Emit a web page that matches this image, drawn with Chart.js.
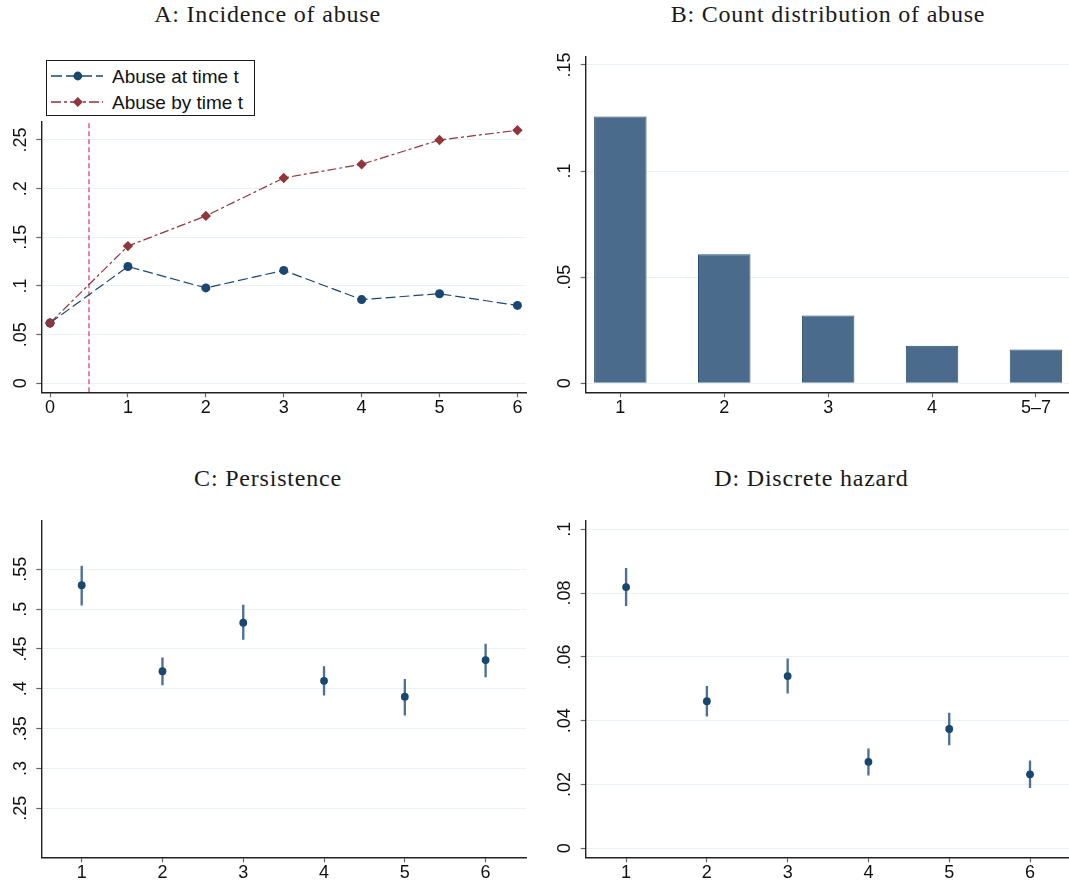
<!DOCTYPE html>
<html><head><meta charset="utf-8">
<script src="https://cdn.jsdelivr.net/npm/chart.js@4.4.1/dist/chart.umd.min.js"></script>
<style>
html,body{margin:0;padding:0;overflow:hidden;background:#fff}
body{width:1069px;height:884px;position:relative}
canvas{position:absolute}
.title{position:absolute;width:600px;text-align:center;font-family:"Liberation Serif",serif;font-size:24px;line-height:24px;letter-spacing:0.8px;color:#1a1a1a;white-space:nowrap}
.leg{position:absolute;left:46px;top:60px;width:209px;height:56px;border:1px solid #1a1a1a;box-sizing:border-box;background:#fff}
.legtxt{position:absolute;font-family:"Liberation Sans",Arial,sans-serif;font-size:19px;line-height:19px;color:#111;white-space:nowrap}
svg{position:absolute;overflow:visible}
</style></head><body>
<canvas id="cA" width="540" height="380" style="left:0;top:40px;width:540px;height:380px"></canvas>
<canvas id="cB" width="540" height="380" style="left:545px;top:40px;width:540px;height:380px"></canvas>
<canvas id="cC" width="540" height="384" style="left:0;top:500px;width:540px;height:384px"></canvas>
<canvas id="cD" width="540" height="384" style="left:545px;top:500px;width:540px;height:384px"></canvas>

<div class="title" style="left:-32.5px;top:1.6px">A: Incidence of abuse</div>
<div class="title" style="left:528px;top:1.6px">B: Count distribution of abuse</div>
<div class="title" style="left:-32px;top:465.6px">C: Persistence</div>
<div class="title" style="left:511.5px;top:465.6px">D: Discrete hazard</div>

<div class="leg"></div>
<svg style="left:51px;top:66px" width="54" height="20">
  <line x1="0" y1="10" x2="52" y2="10" stroke="#1a476f" stroke-width="1.3" stroke-dasharray="11 4"/>
  <circle cx="26.8" cy="10" r="4.4" fill="#1a476f"/>
</svg>
<svg style="left:51px;top:91.7px" width="54" height="20">
  <line x1="0" y1="10" x2="52" y2="10" stroke="#90353b" stroke-width="1.3" stroke-dasharray="10 3 3 3"/>
  <polygon points="26.8,5 31.8,10 26.8,15 21.8,10" fill="#90353b"/>
</svg>
<div class="legtxt" style="left:112px;top:67.2px">Abuse at time t</div>
<div class="legtxt" style="left:112px;top:92.9px">Abuse by time t</div>

<script>
// ---------- data ----------
const incidencePeriods = [0, 1, 2, 3, 4, 5, 6];
const incidenceXLabels = ['0', '1', '2', '3', '4', '5', '6'];
const abuseAtTime = [0.062, 0.120, 0.098, 0.116, 0.086, 0.092, 0.080];
const abuseByTime = [0.062, 0.141, 0.172, 0.211, 0.225, 0.250, 0.260];
const cutoffPeriod = 0.5;
const incidenceYTicks = [0, 0.05, 0.10, 0.15, 0.20, 0.25];
const incidenceYLabels = ['0', '.05', '.1', '.15', '.2', '.25'];

const countPositions = [1, 2, 3, 4, 5];
const countCategories = ['1', '2', '3', '4', '5\u20137'];
const countShares = [0.1257, 0.0608, 0.0319, 0.0177, 0.0159];
const countYTicks = [0, 0.05, 0.10, 0.15];
const countYLabels = ['0', '.05', '.1', '.15'];

const periods = [1, 2, 3, 4, 5, 6];
const periodLabels = ['1', '2', '3', '4', '5', '6'];
const persistence = [0.530, 0.422, 0.483, 0.410, 0.390, 0.436];
const persistenceLow = [0.505, 0.405, 0.462, 0.392, 0.367, 0.415];
const persistenceHigh = [0.554, 0.439, 0.505, 0.428, 0.412, 0.456];
const persistYTicks = [0.25, 0.30, 0.35, 0.40, 0.45, 0.50, 0.55];
const persistYLabels = ['.25', '.3', '.35', '.4', '.45', '.5', '.55'];

const hazard = [0.0819, 0.0461, 0.0540, 0.0271, 0.0374, 0.0232];
const hazardLow = [0.0761, 0.0414, 0.0486, 0.0229, 0.0324, 0.0190];
const hazardHigh = [0.0878, 0.0508, 0.0594, 0.0312, 0.0424, 0.0274];
const hazardYTicks = [0, 0.02, 0.04, 0.06, 0.08, 0.10];
const hazardYLabels = ['0', '.02', '.04', '.06', '.08', '.1'];

// ---------- styles ----------
const BLUE = '#1a476f', RED = '#90353b', CUT = '#d8365f';
const BARFILL = '#4a6b8c', BAREDGE = '#2a4d73', ERR = '#4d7195';
const AXIS = '#222', TICK = '#666', GRID = '#eaf2f3';
Chart.defaults.font.family = '"Liberation Sans", Arial, sans-serif';
Chart.defaults.color = '#111';

function xScale(min, max, ticks, labels, h) {
  return {
    type: 'linear', min, max, offset: false,
    afterBuildTicks: s => { s.ticks = ticks.map(v => ({ value: v })); },
    afterFit: s => { s.height = h; },
    grid: { offset: false, drawOnChartArea: false, drawTicks: true, tickLength: 5, tickColor: TICK, tickWidth: 1.2 },
    border: { display: true, color: AXIS, width: 1.4 },
    ticks: { padding: 0, font: { size: 18 }, color: '#111', minRotation: 0, maxRotation: 0, autoSkip: false,
             callback: (v, i) => labels[i] }
  };
}
function yScale(min, max, ticks, labels, w) {
  return {
    type: 'linear', min, max, offset: false, beginAtZero: false,
    afterBuildTicks: s => { s.ticks = ticks.map(v => ({ value: v })); },
    afterFit: s => { s.width = w; },
    grid: { offset: false, color: GRID, lineWidth: 1, drawTicks: true, tickLength: 5, tickColor: TICK, tickWidth: 1.2 },
    border: { display: true, color: AXIS, width: 1.4 },
    ticks: { padding: 3, font: { size: 18 }, color: '#111', minRotation: 90, maxRotation: 90, crossAlign: 'center', autoSkip: false,
             callback: (v, i) => labels[i] }
  };
}
function baseOptions(top, right, x, y) {
  return {
    responsive: false, animation: false, devicePixelRatio: 1, events: [],
    layout: { padding: { top, right, bottom: 0, left: 0 } },
    plugins: { legend: { display: false }, title: { display: false }, tooltip: { enabled: false } },
    scales: { x, y }
  };
}
const pts = (xs, ys) => xs.map((x, i) => ({ x, y: ys[i] }));
const ranges = (xs, lo, hi) => xs.map((x, i) => ({ x, y: [lo[i], hi[i]] }));

// ---------- A ----------
const aY = [-0.00925, 0.2688];
new Chart(document.getElementById('cA'), {
  type: 'line',
  data: { datasets: [
    { data: [{ x: cutoffPeriod, y: aY[0] }, { x: cutoffPeriod, y: aY[1] }], borderColor: CUT, borderWidth: 1.2,
      borderDash: [5, 3], pointRadius: 0, order: 3 },
    { label: 'Abuse at time t', data: pts(incidencePeriods, abuseAtTime), borderColor: BLUE, borderWidth: 1.2,
      borderDash: [10, 4], pointRadius: 4.5, pointStyle: 'circle', pointBackgroundColor: BLUE, pointBorderColor: BLUE,
      pointBorderWidth: 0, tension: 0, order: 2 },
    { label: 'Abuse by time t', data: pts(incidencePeriods, abuseByTime), borderColor: RED, borderWidth: 1.2,
      borderDash: [9, 3, 3, 3], pointRadius: 5.2, pointStyle: 'rectRot', pointBackgroundColor: RED, pointBorderColor: RED,
      pointBorderWidth: 0, tension: 0, order: 1 }
  ] },
  options: baseOptions(81.7, 14,
    xScale(-0.112, 6.11, incidencePeriods, incidenceXLabels, 27.7),
    yScale(aY[0], aY[1], incidenceYTicks, incidenceYLabels, 41.3))
});

// ---------- B ----------
new Chart(document.getElementById('cB'), {
  type: 'bar',
  data: { datasets: [
    { label: 'Share', data: pts(countPositions, countShares), backgroundColor: BARFILL, borderColor: BAREDGE,
      borderWidth: 1, barPercentage: 0.505, categoryPercentage: 1 }
  ] },
  options: baseOptions(16.7, 14.4,
    xScale(2 / 3, 16 / 3, countPositions, countCategories, 27.7),
    yScale(-0.00424, 0.1539, countYTicks, countYLabels, 40.7))
});

// ---------- C ----------
new Chart(document.getElementById('cC'), {
  type: 'bar',
  data: { datasets: [
    { type: 'bar', data: ranges(periods, persistenceLow, persistenceHigh), backgroundColor: ERR, borderWidth: 0,
      barThickness: 1.7, order: 2 },
    { type: 'line', data: pts(periods, persistence), showLine: false, pointRadius: 3.9, pointStyle: 'circle',
      pointBackgroundColor: BLUE, pointBorderColor: BLUE, pointBorderWidth: 0, order: 1 }
  ] },
  options: baseOptions(20.7, 14,
    xScale(0.5, 6.5, periods, periodLabels, 26.7),
    yScale(0.1885, 0.611, persistYTicks, persistYLabels, 41.3))
});

// ---------- D ----------
new Chart(document.getElementById('cD'), {
  type: 'bar',
  data: { datasets: [
    { type: 'bar', data: ranges(periods, hazardLow, hazardHigh), backgroundColor: ERR, borderWidth: 0,
      barThickness: 1.7, order: 2 },
    { type: 'line', data: pts(periods, hazard), showLine: false, pointRadius: 3.9, pointStyle: 'circle',
      pointBackgroundColor: BLUE, pointBorderColor: BLUE, pointBorderWidth: 0, order: 1 }
  ] },
  options: baseOptions(20.7, 14.6,
    xScale(0.5, 6.5, periods, periodLabels, 26.7),
    yScale(-0.00282, 0.1027, hazardYTicks, hazardYLabels, 40.7))
});
</script>
</body></html>
